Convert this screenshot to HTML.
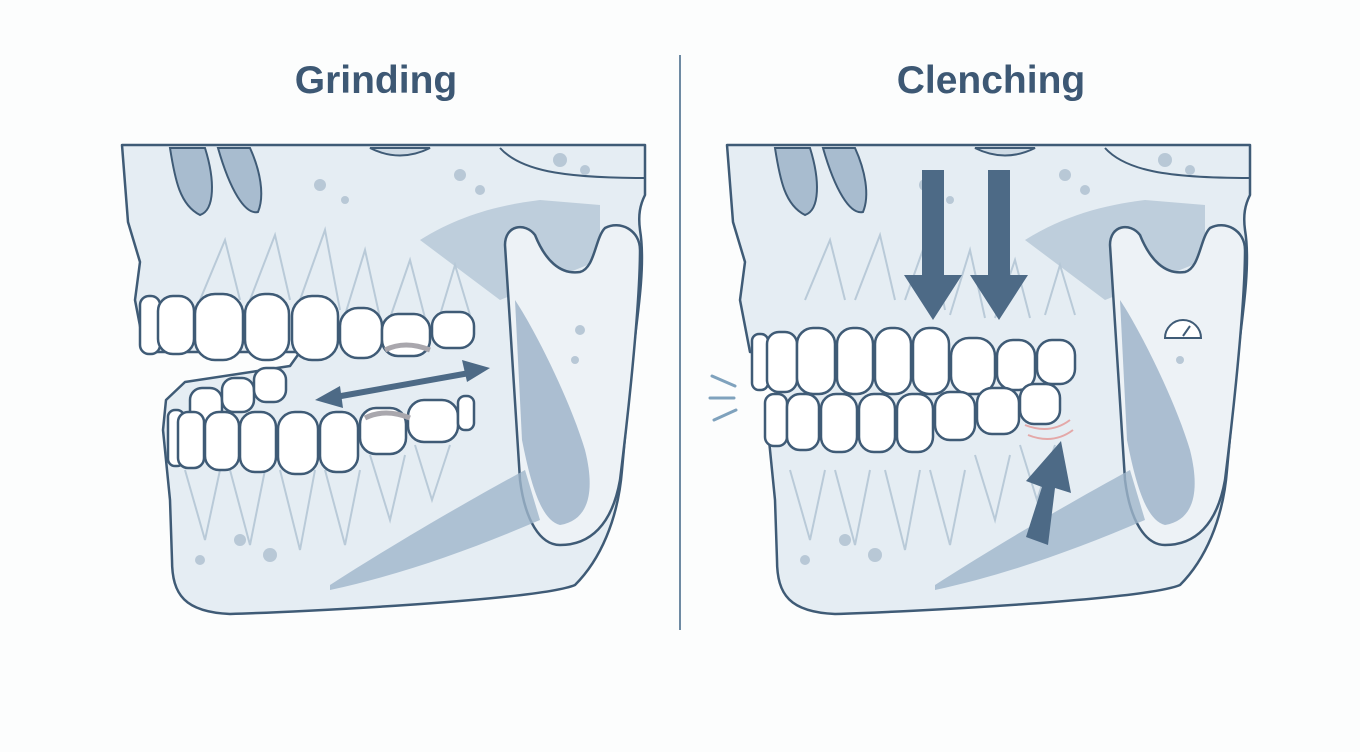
<!DOCTYPE html>
<html><head><meta charset="utf-8"><style>
html,body{margin:0;padding:0;background:#fcfdfd;}
svg{display:block}
text{font-family:"Liberation Sans",sans-serif;font-weight:bold;fill:#3d5874}
</style></head><body>
<svg width="1360" height="752" viewBox="0 0 1360 752" xmlns="http://www.w3.org/2000/svg">
<defs>
<g id="skull">
  <path d="M122,145 H645 V195 C640,205 638,215 640,230 C645,260 640,300 632,360 L622,470 C618,520 600,560 575,585 C540,600 300,612 230,614 C185,612 172,595 172,560 L170,500 L163,430 L166,400 L185,382 L290,366 L300,352 L145,352 L135,300 L140,262 L128,222 Z" fill="#e5edf3" stroke="#3f5b76" stroke-width="2.5" stroke-linejoin="round"/>
  <path d="M170,148 C175,180 180,205 200,215 C215,210 215,180 205,148 Z" fill="#a8bccf" stroke="#3f5b76" stroke-width="2"/>
  <path d="M218,148 C230,190 245,215 258,212 C265,195 260,170 250,148 Z" fill="#a8bccf" stroke="#3f5b76" stroke-width="2"/>
  <path d="M370,148 C390,158 410,158 430,148 Z" fill="#cfdbe5" stroke="#3f5b76" stroke-width="2"/>
  <path d="M500,148 C520,170 560,178 645,178" fill="none" stroke="#3f5b76" stroke-width="2"/>
  <g fill="none" stroke="#b9cad8" stroke-width="2">
    <path d="M200,300 L225,240 L240,300 M250,300 L275,235 L290,300 M300,300 L325,230 L340,310 M345,315 L365,250 L380,318 M390,318 L410,260 L425,318 M440,315 L455,265 L470,315"/>
    <path d="M185,470 L205,540 L220,470 M230,470 L250,545 L265,470 M280,470 L300,550 L315,470 M325,470 L345,545 L360,470 M370,455 L390,520 L405,455 M415,445 L432,500 L450,445"/>
  </g>
  <path d="M420,240 C460,215 500,205 540,200 L600,205 L600,260 L500,300 Z" fill="#b4c6d6" opacity="0.8"/>
  <path d="M505,245 C505,225 525,222 535,235 C545,260 560,275 580,272 C595,268 595,238 605,228 C620,220 640,230 640,250 C640,300 630,400 620,480 C612,525 590,545 560,545 C540,545 525,520 520,480 Z" fill="#edf2f6" stroke="#3f5b76" stroke-width="2.5"/>
  <path d="M515,300 C535,330 570,400 585,450 C595,490 590,520 560,525 C540,520 530,480 522,440 Z" fill="#9fb5ca" opacity="0.85"/>
  <path d="M330,585 C400,540 470,500 525,470 L540,520 C470,550 400,575 330,590 Z" fill="#9fb5ca" opacity="0.8"/>
  <g fill="#b8c8d6">
    <circle cx="320" cy="185" r="6"/><circle cx="345" cy="200" r="4"/><circle cx="460" cy="175" r="6"/><circle cx="480" cy="190" r="5"/>
    <circle cx="560" cy="160" r="7"/><circle cx="585" cy="170" r="5"/><circle cx="240" cy="540" r="6"/><circle cx="270" cy="555" r="7"/>
    <circle cx="580" cy="330" r="5"/><circle cx="575" cy="360" r="4"/><circle cx="200" cy="560" r="5"/>
  </g>
</g>
</defs>

<text x="376" y="93" font-size="39" text-anchor="middle">Grinding</text>
<text x="991" y="93" font-size="39" text-anchor="middle">Clenching</text>
<line x1="680" y1="55" x2="680" y2="630" stroke="#6e8aa3" stroke-width="2"/>

<!-- LEFT -->
<use href="#skull"/>
<g fill="#fff" stroke="#3f5b76" stroke-width="2.5">
  <rect x="140" y="296" width="20" height="58" rx="9"/>
  <rect x="158" y="296" width="36" height="58" rx="15"/>
  <rect x="195" y="294" width="48" height="66" rx="20"/>
  <rect x="245" y="294" width="44" height="66" rx="20"/>
  <rect x="292" y="296" width="46" height="64" rx="20"/>
  <rect x="340" y="308" width="42" height="50" rx="18"/>
  <rect x="382" y="314" width="48" height="42" rx="16"/>
  <rect x="432" y="312" width="42" height="36" rx="14"/>
  <rect x="190" y="388" width="32" height="34" rx="12"/>
  <rect x="222" y="378" width="32" height="34" rx="12"/>
  <rect x="254" y="368" width="32" height="34" rx="12"/>
  <rect x="168" y="410" width="16" height="56" rx="7"/>
  <rect x="178" y="412" width="26" height="56" rx="10"/>
  <rect x="205" y="412" width="34" height="58" rx="14"/>
  <rect x="240" y="412" width="36" height="60" rx="15"/>
  <rect x="278" y="412" width="40" height="62" rx="17"/>
  <rect x="320" y="412" width="38" height="60" rx="16"/>
  <rect x="360" y="408" width="46" height="46" rx="16"/>
  <rect x="408" y="400" width="50" height="42" rx="16"/>
  <rect x="458" y="396" width="16" height="34" rx="7"/>
</g>
<path d="M385,350 q20,-10 45,0" stroke="#a9a7ad" stroke-width="5" fill="none"/>
<path d="M365,418 q20,-10 45,0" stroke="#a9a7ad" stroke-width="5" fill="none"/>
<g fill="#4d6a86">
  <line x1="330" y1="398" x2="475" y2="372" stroke="#4d6a86" stroke-width="6"/>
  <path d="M315,400 L340,386 L343,408 Z"/>
  <path d="M490,368 L462,360 L467,382 Z"/>
</g>

<!-- RIGHT -->
<use href="#skull" transform="translate(605,0)"/>
<g fill="#fff" stroke="#3f5b76" stroke-width="2.5">
  <rect x="752" y="334" width="16" height="56" rx="7"/>
  <rect x="767" y="332" width="30" height="60" rx="12"/>
  <rect x="797" y="328" width="38" height="66" rx="16"/>
  <rect x="837" y="328" width="36" height="66" rx="16"/>
  <rect x="875" y="328" width="36" height="66" rx="16"/>
  <rect x="913" y="328" width="36" height="66" rx="16"/>
  <rect x="951" y="338" width="44" height="56" rx="18"/>
  <rect x="997" y="340" width="38" height="50" rx="16"/>
  <rect x="1037" y="340" width="38" height="44" rx="15"/>
  <rect x="765" y="394" width="22" height="52" rx="9"/>
  <rect x="787" y="394" width="32" height="56" rx="13"/>
  <rect x="821" y="394" width="36" height="58" rx="15"/>
  <rect x="859" y="394" width="36" height="58" rx="15"/>
  <rect x="897" y="394" width="36" height="58" rx="15"/>
  <rect x="935" y="392" width="40" height="48" rx="15"/>
  <rect x="977" y="388" width="42" height="46" rx="15"/>
  <rect x="1020" y="384" width="40" height="40" rx="14"/>
</g>
<g fill="#4d6a86">
  <path d="M922,170 h22 v105 h18 l-29,45 l-29,-45 h18 Z"/>
  <path d="M988,170 h22 v105 h18 l-29,45 l-29,-45 h18 Z"/>
  <path d="M1048,545 l-22,-8 l16,-50 l-16,-6 l35,-40 l10,52 l-16,-5 Z"/>
</g>
<path d="M1025,425 q25,10 45,-5 M1028,435 q25,10 45,-5" stroke="#e4a8a8" stroke-width="2" fill="none"/>
<g stroke="#7fa2bd" stroke-width="3" stroke-linecap="round">
  <line x1="712" y1="376" x2="735" y2="386"/><line x1="710" y1="398" x2="734" y2="398"/><line x1="714" y1="420" x2="736" y2="410"/>
</g>
<path d="M1165,338 a18,18 0 0 1 36,0 Z" fill="#fff" stroke="#3f5b76" stroke-width="2"/>
<line x1="1183" y1="336" x2="1190" y2="326" stroke="#3f5b76" stroke-width="2"/>
</svg>
</body></html>
